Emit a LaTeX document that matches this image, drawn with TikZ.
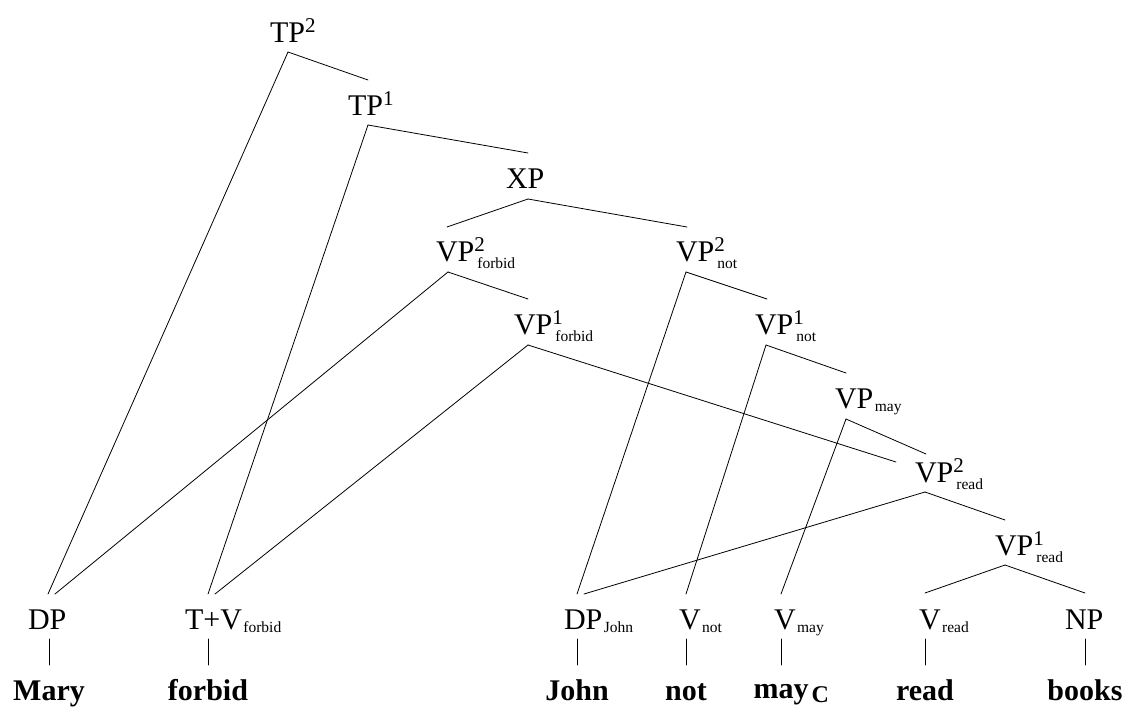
\documentclass[tikz,border=0pt]{standalone}
\usepackage{fontspec}
\setmainfont{Liberation Serif}
\newcommand{\mysup}[1]{\raisebox{10pt}{\fontsize{21}{21}\selectfont #1}}
\newcommand{\mysub}[1]{\kern1.5pt\raisebox{-3.5pt}{\fontsize{15.5}{16}\selectfont #1}}
\newcommand{\mysupsub}[2]{\rlap{\mysup{#1}}\kern3pt\raisebox{-7pt}{\fontsize{15.5}{16}\selectfont #2}}
\tikzset{
  lbl/.style={anchor=base west, inner sep=0pt, outer sep=0pt, font=\fontsize{30}{36}\selectfont},
  word/.style={anchor=base, inner sep=0pt, outer sep=0pt, font=\fontsize{30}{36}\selectfont\bfseries},
  br/.style={line width=0.8pt, line cap=round}
}
\begin{document}
\begin{tikzpicture}[x=1pt,y=-1pt]
\useasboundingbox (0,0) rectangle (1128,707);
% labels
\node[lbl] (tp2) at (270,42) {TP\mysup{2}};
\node[lbl] (tp1) at (348,115) {TP\mysup{1}};
\node[lbl] (xp) at (506,188) {XP};
\node[lbl] (vfb2) at (436,261) {VP\mysupsub{2}{forbid}};
\node[lbl] (vnt2) at (676,261) {VP\mysupsub{2}{not}};
\node[lbl] (vfb1) at (514,334) {VP\mysupsub{1}{forbid}};
\node[lbl] (vnt1) at (755,334) {VP\mysupsub{1}{not}};
\node[lbl] (vmay) at (835,408) {VP\mysub{may}};
\node[lbl] (vrd2) at (915,482) {VP\mysupsub{2}{read}};
\node[lbl] (vrd1) at (995,555) {VP\mysupsub{1}{read}};
\node[lbl] (dp) at (28,629) {DP};
\node[lbl] (tv) at (185,629) {T+V\mysub{forbid}};
\node[lbl] (dpj) at (564,629) {DP\mysub{John}};
\node[lbl] (vn) at (679,629) {V\mysub{not}};
\node[lbl] (vm) at (774,629) {V\mysub{may}};
\node[lbl] (vr) at (919,629) {V\mysub{read}};
\node[lbl] (np) at (1065,629) {NP};
% words
\node[word] (wmary) at (49,700) {Mary};
\node[word] (wforbid) at (208,700) {forbid};
\node[word] (wjohn) at (577,700) {John};
\node[word] (wnot) at (686,700) {not};
\node[word] (wmay) at (781,698) {may\rlap{\kern3pt\raisebox{-4pt}{\fontsize{24}{24}\selectfont C}}};
\node[word] (wread) at (925,700) {read};
\node[word] (wbooks) at (1085,700) {books};
% branch points
\coordinate (tp2b) at (288,52);
\coordinate (tp1t) at (368,80);   \coordinate (tp1b) at (368,125);
\coordinate (xpt) at (528,153);   \coordinate (xpb) at (528,199);
\coordinate (vfb2t) at (447,227); \coordinate (vfb2b) at (448,272);
\coordinate (vnt2t) at (687,227); \coordinate (vnt2b) at (686,272);
\coordinate (vfb1t) at (528,299); \coordinate (vfb1b) at (528,345);
\coordinate (vnt1t) at (767,299); \coordinate (vnt1b) at (766,345);
\coordinate (vmayt) at (846,373); \coordinate (vmayb) at (846,419);
\coordinate (vrd2tl) at (896,462); \coordinate (vrd2tr) at (926,454); \coordinate (vrd2b) at (925,492);
\coordinate (vrd1t) at (1005,520); \coordinate (vrd1b) at (1005,565);
\coordinate (dpt1) at (48,594);  \coordinate (dpt2) at (55,594);
\coordinate (tvt1) at (208,594); \coordinate (tvt2) at (215,594);
\coordinate (djt1) at (577,594); \coordinate (djt2) at (584,594);
\coordinate (vnt) at (686,594);  \coordinate (vmt) at (781,594);
\coordinate (vrt) at (925,593);  \coordinate (npt) at (1085,593);
% stems
\foreach \n/\x in {s1/49,s2/208,s3/577,s4/686,s5/781,s6/925,s7/1085}{
  \coordinate (\n a) at (\x,639); \coordinate (\n b) at (\x,665);
}
% connectors
\draw[br] (tp2b) -- (tp1t);
\draw[br] (tp2b) -- (dpt1);
\draw[br] (tp1b) -- (xpt);
\draw[br] (tp1b) -- (tvt1);
\draw[br] (xpb) -- (vfb2t);
\draw[br] (xpb) -- (vnt2t);
\draw[br] (vfb2b) -- (dpt2);
\draw[br] (vfb2b) -- (vfb1t);
\draw[br] (vfb1b) -- (tvt2);
\draw[br] (vfb1b) -- (vrd2tl);
\draw[br] (vnt2b) -- (djt1);
\draw[br] (vnt2b) -- (vnt1t);
\draw[br] (vnt1b) -- (vnt);
\draw[br] (vnt1b) -- (vmayt);
\draw[br] (vmayb) -- (vmt);
\draw[br] (vmayb) -- (vrd2tr);
\draw[br] (vrd2b) -- (djt2);
\draw[br] (vrd2b) -- (vrd1t);
\draw[br] (vrd1b) -- (vrt);
\draw[br] (vrd1b) -- (npt);
\foreach \n in {s1,s2,s3,s4,s5,s6,s7}{ \draw[br] (\n a) -- (\n b); }
\end{tikzpicture}
\end{document}
